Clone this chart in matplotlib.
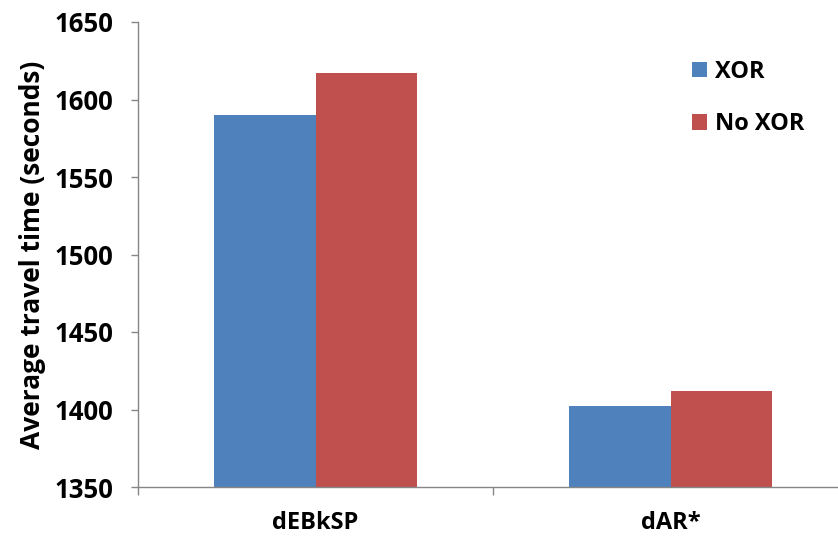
import numpy as np
import matplotlib
matplotlib.use("Agg")
from matplotlib import pyplot as plt
from matplotlib.patches import Patch

# data
categories = ["dEBkSP", "dAR*"]
xor_vals = [1590, 1402]
noxor_vals = [1617, 1412]
series_names = ["XOR", "No XOR"]
yticks = [1350, 1400, 1450, 1500, 1550, 1600, 1650]

blue = "#4F81BD"
red = "#C0504D"

plt.rcParams["font.family"] = ["Open Sans", "DejaVu Sans"]
plt.rcParams["font.weight"] = "bold"

fig = plt.figure(figsize=(8.38, 5.39), dpi=100)
W, H = 838, 539
ax = fig.add_axes([138 / W, 1 - 487 / H, (848 - 138) / W, (487 - 22) / H])

x = np.arange(len(categories))
w = 0.287
ax.bar(x - w / 2, xor_vals, w, color=blue, edgecolor="none")
ax.bar(x + w / 2, noxor_vals, w, color=red, edgecolor="none")

ax.set_xlim(-0.5, 1.5)
ax.set_ylim(1350, 1650)
ax.set_yticks(yticks)
ax.set_yticklabels([str(v) for v in yticks], fontsize=18.5, fontweight="bold")

ax.set_xticks(x)
ax.set_xticklabels(categories, fontsize=17, fontweight="bold")
ax.tick_params(axis="x", length=0, pad=17)
ax.set_xticks([-0.5, 0.5, 1.5], minor=True)
ax.tick_params(axis="x", which="minor", length=6, color="#868686", width=1)
ax.tick_params(axis="y", length=5, color="#868686", width=1, pad=13)

for s in ["top", "right"]:
    ax.spines[s].set_visible(False)
for s in ["left", "bottom"]:
    ax.spines[s].set_color("#868686")
    ax.spines[s].set_linewidth(1)

ax.set_ylabel("Average travel time (seconds)", fontsize=19, fontweight="bold", labelpad=6)

handles = [Patch(facecolor=blue), Patch(facecolor=red)]
fig.legend(handles, series_names, loc="upper left", bbox_to_anchor=(692 / W, 1 - 60 / H),
           frameon=False, handlelength=0.62, handleheight=0.62,
           handletextpad=0.35, labelspacing=1.2, borderaxespad=0, borderpad=0,
           prop={"weight": "bold", "size": 17})

fig.savefig("out.png", dpi=100)
